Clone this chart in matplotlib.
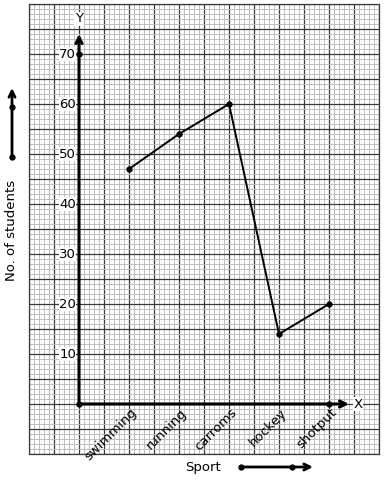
import matplotlib
matplotlib.use("Agg")
import matplotlib.pyplot as plt
import numpy as np

sports = ["swimming", "running", "carroms", "hockey", "shotput"]
students = [47, 54, 60, 14, 20]
y_ticks = [10, 20, 30, 40, 50, 60, 70]

W, H = 384, 480
fig = plt.figure(figsize=(W / 100, H / 100), dpi=100)
ax = fig.add_axes([29 / W, (H - 454) / H, 350 / W, 450 / H])
ax.set_xlim(-1, 6)
ax.set_ylim(-10, 80)

# graph paper
ax.set_xticks(np.arange(-1, 6.01, 0.5))
ax.set_xticks(np.arange(-1, 6.01, 0.1), minor=True)
ax.set_yticks(np.arange(-10, 80.1, 5))
ax.set_yticks(np.arange(-10, 80.1, 1), minor=True)
ax.grid(which="minor", color="#bdbdbd", linewidth=0.7)
ax.grid(which="major", color="#3a3a3a", linewidth=0.9)
ax.tick_params(which="both", length=0, labelbottom=False, labelleft=False)
for s in ax.spines.values():
    s.set_color("#3a3a3a")
    s.set_linewidth(0.9)
ax.set_axisbelow(True)

# axes with arrows
ax.annotate("", xy=(0, 74), xytext=(0, 0),
            arrowprops=dict(arrowstyle="->", lw=2.2, color="black", mutation_scale=11,
                            shrinkA=0, shrinkB=0))
ax.annotate("", xy=(5.4, 0), xytext=(0, 0),
            arrowprops=dict(arrowstyle="->", lw=2.2, color="black", mutation_scale=11,
                            shrinkA=0, shrinkB=0))
ax.text(0, 77, "Y", ha="center", va="center", fontsize=9.5,
        bbox=dict(facecolor="white", edgecolor="none", pad=0.5))
ax.text(5.58, 0, "X", ha="center", va="center", fontsize=9.5,
        bbox=dict(facecolor="white", edgecolor="none", pad=0.5))
ax.plot([0, 0, 5], [0, 70, 0], "o", color="black", markersize=3.5, zorder=5)

# tick labels
for v in y_ticks:
    ax.text(-0.06, v, str(v), ha="right", va="center", fontsize=9.5,
            bbox=dict(facecolor="white", edgecolor="none", pad=0.3))
x = np.arange(1, len(sports) + 1)
for xi, name in zip(x, sports):
    ax.text(xi + 0.02, -0.4, name, ha="right", va="top", rotation=45,
            rotation_mode="anchor", fontsize=9.5)

# data line
ax.plot(x, students, "-o", color="black", linewidth=1.4, markersize=3.5, zorder=6)

# outside annotations
def fp(px, py):
    return (px / W, 1 - py / H)

fig.text(*fp(12, 230), "No. of students", rotation=90, ha="center", va="center", fontsize=9.5)
fig.text(*fp(203, 467), "Sport", ha="center", va="center", fontsize=9.5)
fig.add_artist(matplotlib.patches.FancyArrowPatch(fp(12, 157), fp(12, 88), transform=fig.transFigure,
               arrowstyle="->", lw=2, color="black", mutation_scale=11, shrinkA=0, shrinkB=0))
fig.add_artist(matplotlib.patches.FancyArrowPatch(fp(241, 467), fp(313, 467), transform=fig.transFigure,
               arrowstyle="->", lw=2, color="black", mutation_scale=11, shrinkA=0, shrinkB=0))
for p in [fp(12, 157), fp(12, 107), fp(241, 467), fp(292, 467)]:
    fig.add_artist(matplotlib.lines.Line2D([p[0]], [p[1]], marker="o", color="black",
                                           markersize=3.5, transform=fig.transFigure))

fig.savefig("out.png", dpi=100, facecolor="white")
